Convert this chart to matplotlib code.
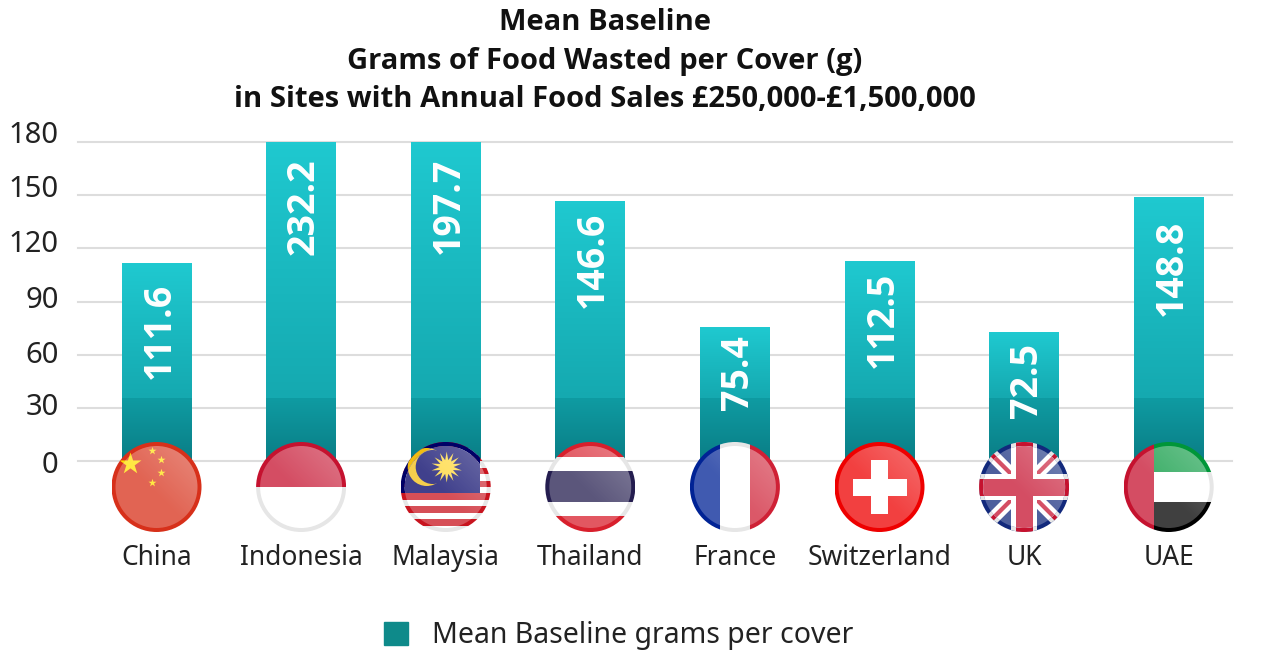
import numpy as np
import matplotlib
matplotlib.use("Agg")
import matplotlib.pyplot as plt
from matplotlib.colors import LinearSegmentedColormap, to_rgb
from matplotlib.patches import Circle, Patch, Polygon, Rectangle
from matplotlib.transforms import ScaledTranslation

countries = ["China", "Indonesia", "Malaysia", "Thailand", "France", "Switzerland", "UK", "UAE"]
grams = [111.6, 232.2, 197.7, 146.6, 75.4, 112.5, 72.5, 148.8]
y_ticks = [0, 30, 60, 90, 120, 150, 180]

plt.rcParams["font.family"] = ["Noto Sans", "DejaVu Sans"]

W, H = 1261, 652
TEXT = "#222222"
BAND = 35.5
R = 45
RIM = 41
PALE = "#e6e6e6"
BOLD = ["Open Sans", "DejaVu Sans"]

fig = plt.figure(figsize=(W / 100, H / 100), dpi=100)
ax = fig.add_axes([78 / W, 1 - 461 / H, 1154 / W, 319 / H])

light = LinearSegmentedColormap.from_list("light", ["#15a9b0", "#1fc9d0"])
dark = LinearSegmentedColormap.from_list("dark", ["#0a7e86", "#0f9ba2"])
ramp = np.linspace(1, 0, 64).reshape(-1, 1)

x = np.arange(len(countries))
bars = ax.bar(x, grams, width=0.484, color="#15aeb5", zorder=2)

# gradient fill on top of each bar, with the darker band along the bottom
for bar in bars:
    x0, x1 = bar.get_x(), bar.get_x() + bar.get_width()
    top = min(bar.get_height(), y_ticks[-1])
    ax.imshow(ramp, cmap=light, vmin=0, vmax=1, extent=(x0, x1, BAND, top), aspect="auto", zorder=3)
    ax.imshow(ramp, cmap=dark, vmin=0, vmax=1, extent=(x0, x1, 0, BAND), aspect="auto", zorder=3)

ax.set_xlim(-78.5 / 144.6, 1075.5 / 144.6)
ax.set_ylim(0, y_ticks[-1])

ax.set_yticks(y_ticks)
ax.set_xticks(x, countries)
ax.tick_params(axis="both", length=0, colors=TEXT)
ax.tick_params(axis="y", labelsize=21, pad=14)
ax.tick_params(axis="x", labelsize=19, pad=59.5)
ax.grid(axis="y", color="#dddddd", linewidth=1.5)
ax.set_axisbelow(True)
for line in ax.get_ygridlines():
    line.set_clip_on(False)
for side in ax.spines.values():
    side.set_visible(False)

# the y labels sit at slightly uneven heights above their gridlines
lifts = [-1, 4, 3, 5, 7, 9, 10]
for tick, lift in zip(ax.yaxis.get_major_ticks(), lifts):
    tick.label1.set_transform(tick.label1.get_transform() + ScaledTranslation(0, lift / 100, fig.dpi_scale_trans))

label_tops = [100.5, 170.5, 171.0, 140.5, 71.1, 106.7, 66.6, 136.0]
for i, (value, y_top) in enumerate(zip(grams, label_tops)):
    ax.text(i + 0.02, y_top, f"{value:.1f}", rotation=90, ha="center", va="top",
            color="white", fontsize=27, fontweight="bold", family=BOLD, zorder=4)

# flags live on a transparent overlay measured in pixels
fa = fig.add_axes([0, 0, 1, 1])
fa.patch.set_alpha(0)
fa.axis("off")
fa.set_xlim(0, W)
fa.set_ylim(H, 0)
fa.set_autoscale_on(False)


def star(cx, cy, outer, inner, points, turn=-np.pi / 2):
    a = turn + np.arange(points * 2) * np.pi / points
    r = np.where(np.arange(points * 2) % 2 == 0, outer, inner)
    return np.column_stack([cx + r * np.cos(a), cy + r * np.sin(a)])


def lighter(color, amount):
    # the near-white parts of a flag go fully white inside the rim
    if amount > 0 and color == PALE:
        return "white"
    return tuple(c + (1 - c) * amount for c in to_rgb(color))


class Painter:
    def __init__(self, disc, amount):
        self.disc = disc
        self.amount = amount

    def rect(self, x0, y0, x1, y1, color):
        shape = Rectangle((x0, y0), x1 - x0, y1 - y0, facecolor=lighter(color, self.amount), edgecolor="none")
        fa.add_patch(shape)
        shape.set_clip_path(self.disc)

    def poly(self, pts, color):
        shape = Polygon(pts, closed=True, facecolor=lighter(color, self.amount), edgecolor="none")
        fa.add_patch(shape)
        shape.set_clip_path(self.disc)

    def round(self, cx, cy, r, color):
        shape = Circle((cx, cy), r, facecolor=lighter(color, self.amount), edgecolor="none")
        fa.add_patch(shape)
        shape.set_clip_path(self.disc)


def china(p, cx, cy):
    p.rect(cx - R, cy - R, cx + R, cy + R, "#d7301a")
    p.poly(star(cx - 26, cy - 23, 11.5, 4.4, 5), "#ffe000")
    for dx, dy in [(-4, -36), (5, -27), (5, -14), (-4, -4)]:
        p.poly(star(cx + dx, cy + dy, 4.2, 1.6, 5), "#ffe000")


def indonesia(p, cx, cy):
    p.rect(cx - R, cy - R, cx + R, cy, "#c5122f")
    p.rect(cx - R, cy, cx + R, cy + R, PALE)


def malaysia(p, cx, cy):
    for k in range(14):
        color = "#c8141f" if k % 2 == 0 else PALE
        p.rect(cx - R, cy - R + k * 6.43, cx + R, cy - R + (k + 1) * 6.43, color)
    p.rect(cx - R, cy - R, cx + 34, cy + 6, "#000066")
    p.round(cx - 19, cy - 20, 19, "#f2bd10")
    p.round(cx - 13, cy - 20, 17, "#000066")
    p.poly(star(cx + 1, cy - 20, 15.5, 7, 14), "#ffd62a")


def thailand(p, cx, cy):
    for y0, y1, color in [(-45, -30, "#d81f2c"), (-30, -16, PALE), (-16, 15, "#241d4f"),
                          (15, 29, PALE), (29, 45, "#d81f2c")]:
        p.rect(cx - R, cy + y0, cx + R, cy + y1, color)


def france(p, cx, cy):
    p.rect(cx - R, cy - R, cx - 15, cy + R, "#002395")
    p.rect(cx - 15, cy - R, cx + 15, cy + R, PALE)
    p.rect(cx + 15, cy - R, cx + R, cy + R, "#cf2035")


def switzerland(p, cx, cy):
    p.rect(cx - R, cy - R, cx + R, cy + R, "#ee0000")
    p.rect(cx - 27, cy - 8.5, cx + 27, cy + 8.5, PALE)
    p.rect(cx - 8.5, cy - 27, cx + 8.5, cy + 27, PALE)


def uk(p, cx, cy):
    p.rect(cx - R, cy - R, cx + R, cy + R, "#12297c")
    for s in (1, -1):
        p.poly([(cx - 50, cy - s * 41), (cx - 41, cy - s * 50), (cx + 50, cy + s * 41), (cx + 41, cy + s * 50)], PALE)
        p.poly([(cx - 48, cy - s * 45), (cx - 45, cy - s * 48), (cx + 48, cy + s * 45), (cx + 45, cy + s * 48)], "#c5122f")
    p.rect(cx - R, cy - 13, cx + R, cy + 13, PALE)
    p.rect(cx - 13, cy - R, cx + 13, cy + R, PALE)
    p.rect(cx - R, cy - 8.5, cx + R, cy + 8.5, "#c5122f")
    p.rect(cx - 8.5, cy - R, cx + 8.5, cy + R, "#c5122f")


def uae(p, cx, cy):
    p.rect(cx - 15, cy - R, cx + R, cy - 15, "#009639")
    p.rect(cx - 15, cy - 15, cx + R, cy + 15, PALE)
    p.rect(cx - 15, cy + 15, cx + R, cy + R, "#000000")
    p.rect(cx - R, cy - R, cx - 15, cy + R, "#c5122f")


gx, gy = np.meshgrid(np.linspace(0, 1, 64), np.linspace(1, 0, 64))
gloss = np.ones((64, 64, 4))
gloss[..., 3] = 0.24 * np.clip(gx + gy - 0.9, 0, 1.1) / 1.1

flags = [china, indonesia, malaysia, thailand, france, switzerland, uk, uae]
fig.canvas.draw()
for i, paint in enumerate(flags):
    cx, cy = ax.transData.transform((i, 0))[0], 487
    outer = Circle((cx, cy), R, facecolor="none", edgecolor="none")
    inner = Circle((cx, cy), RIM, facecolor="none", edgecolor="none")
    fa.add_patch(outer)
    fa.add_patch(inner)
    # saturated rim first, then a paler copy of the flag inside it
    paint(Painter(outer, 0), cx, cy)
    paint(Painter(inner, 0.25), cx, cy)
    shine = fa.imshow(gloss, extent=(cx - RIM, cx + RIM, cy + RIM, cy - RIM), aspect="auto", zorder=4,
                      interpolation="bilinear")
    shine.set_clip_path(inner)
fa.set_xlim(0, W)
fa.set_ylim(H, 0)

fig.text(605 / W, 1 - 61 / H,
         "Mean Baseline\nGrams of Food Wasted per Cover (g)\nin Sites with Annual Food Sales £250,000-£1,500,000",
         ha="center", va="center", fontsize=21, fontweight="bold", family=BOLD, color="#111111", linespacing=1.45)

fig.legend(handles=[Patch(color="#0e8a8a", label="Mean Baseline grams per cover")],
           loc="center left", bbox_to_anchor=(384 / W, 1 - 636 / H), frameon=False, fontsize=20.5,
           labelcolor=TEXT, handlelength=0.84, handleheight=0.84, handletextpad=0.84, borderpad=0, borderaxespad=0)

fig.savefig("out.png", dpi=100)
